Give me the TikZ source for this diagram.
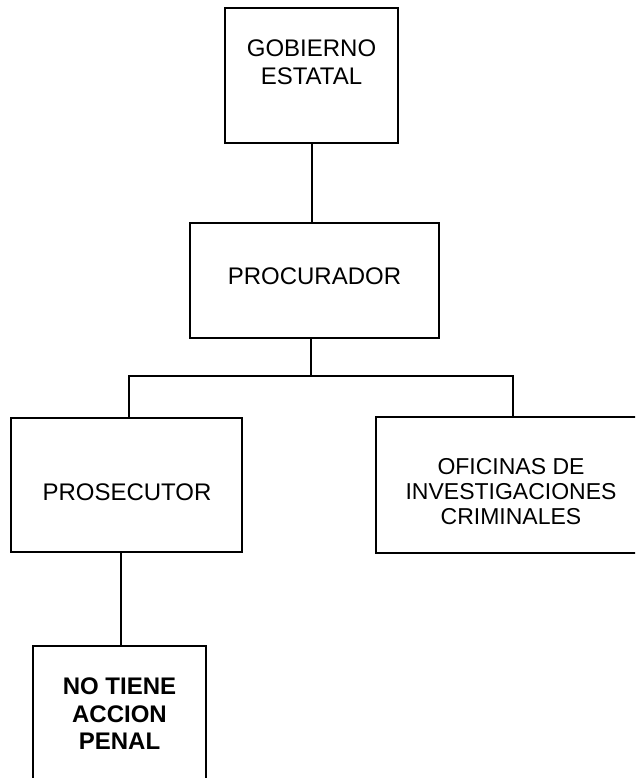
\documentclass[tikz,border=0pt]{standalone}
\usepackage{fontspec}
\setmainfont{Liberation Sans}
\begin{document}
\begin{tikzpicture}[x=1pt,y=-1pt,
  box/.style={draw=black,line width=2pt,rectangle,inner sep=0pt,fill=white},
  wire/.style={draw=black,line width=2pt},
  txt/.style={anchor=base,inner sep=0pt,font=\fontsize{24}{27.5}\selectfont},
  btxt/.style={txt,font=\fontsize{24}{27.5}\selectfont\bfseries}]
\useasboundingbox (0,0) rectangle (635,778);
\clip (0,0) rectangle (635,778);
% boxes
\node[box,minimum width=173pt,minimum height=135pt] (gob) at (311.5,75.5) {};
\node[box,minimum width=249pt,minimum height=115pt] (proc) at (314.5,280.5) {};
\node[box,minimum width=231pt,minimum height=134pt] (pros) at (126.5,485) {};
\node[box,minimum width=270pt,minimum height=136pt] (ofi) at (511,485) {};
\node[box,minimum width=173pt,minimum height=164pt] (noti) at (119.5,728) {};
% connector points
\coordinate (j) at (311,376);
\coordinate (bl) at (129,376);
\coordinate (br) at (513,376);
\coordinate (pb) at (121,552);
% connectors
\draw[wire] (gob.south) -- (gob.south |- proc.north);
\draw[wire] (j |- proc.south) -- (j);
\draw[wire] (bl |- pros.north) -- (bl) -- (br) -- (br |- ofi.north);
\draw[wire] (pb) -- (pb |- noti.north);
% texts
\node[txt] (t1) at (311.5,57) {GOBIERNO};
\node[txt] (t2) at (311.5,85) {ESTATAL};
\node[txt] (t3) at (314.5,284) {PROCURADOR};
\node[txt] (t4) at (127,500) {PROSECUTOR};
\node[txt,font=\fontsize{23}{25}\selectfont] (t5) at (511,474) {OFICINAS DE};
\node[txt,font=\fontsize{23}{25}\selectfont] (t6) at (511,499) {INVESTIGACIONES};
\node[txt,font=\fontsize{23}{25}\selectfont] (t7) at (511,524) {CRIMINALES};
\node[btxt] (t8) at (119.5,694) {NO TIENE};
\node[btxt] (t9) at (119.5,722) {ACCION};
\node[btxt] (t10) at (119.5,749) {PENAL};
\end{tikzpicture}
\end{document}
